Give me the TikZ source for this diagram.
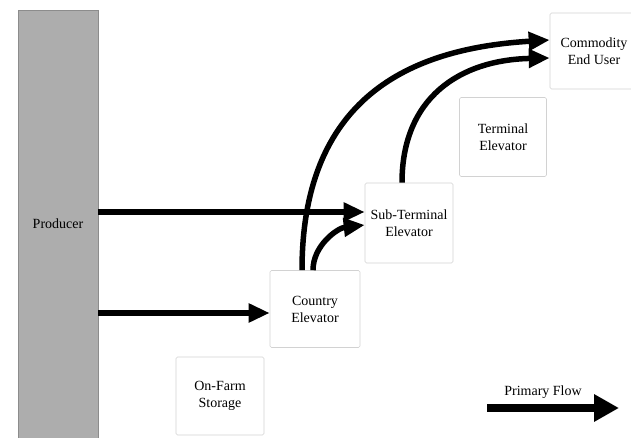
\documentclass[tikz,border=0pt]{standalone}
\usepackage{fontspec}
\setmainfont{Liberation Serif}
\usetikzlibrary{arrows.meta,calc}

\begin{document}
\begin{tikzpicture}[x=1pt, y=1pt,
    box/.style={draw=gray!35, line width=0.6pt, rounded corners=1.5pt, align=center,
                minimum width=88pt, minimum height=78pt, inner sep=0pt},
    flow/.style={line width=5.5pt, -{Triangle[length=21pt, width=18pt]}}]
    \useasboundingbox (0,0) rectangle (631,438);
    \fontsize{14}{17}\selectfont
    % stages of the chain
    \node[draw=black!45, fill=black!32, minimum width=80pt, minimum height=428pt, inner sep=0pt] (producer) at (58,214) {Producer};
    \node[box] (onfarm) at (220,42) {On-Farm\\Storage};
    \node[box, minimum width=90pt, minimum height=77pt] (country) at (315,129) {Country\\Elevator};
    \node[box, minimum height=80pt] (subterm) at (409,215) {Sub-Terminal\\Elevator};
    \node[box, minimum width=87pt, minimum height=79pt] (terminal) at (503,301) {Terminal\\Elevator};
    \node[box, minimum height=76pt] (enduser) at (594,387) {Commodity\\End User};
    % flows
    \draw[flow] ([yshift=12pt]producer.east) -- ([yshift=11pt]subterm.west);
    \draw[flow] ([yshift=-89pt]producer.east) -- ([yshift=-4pt]country.west);
    \draw[flow] ([xshift=-13pt]country.north) .. controls +(0,180) and +(-130,-8) .. ([yshift=11pt]enduser.west);
    \draw[flow] ([xshift=-2pt]country.north) .. controls +(0,25) and +(-27,-3) .. ([yshift=-2pt]subterm.west);
    \draw[flow] ([xshift=-7pt]subterm.north) .. controls +(0,85) and +(-90,-2) .. ([yshift=-7pt]enduser.west);
    % legend
    \node (legend) at (543,46) {Primary Flow};
    \coordinate (flowtail) at (487,30);
    \coordinate (flowtip) at (619,30);
    \draw[line width=8pt, -{Triangle[length=25pt, width=26pt]}] (flowtail) -- (flowtip);
\end{tikzpicture}
\end{document}
